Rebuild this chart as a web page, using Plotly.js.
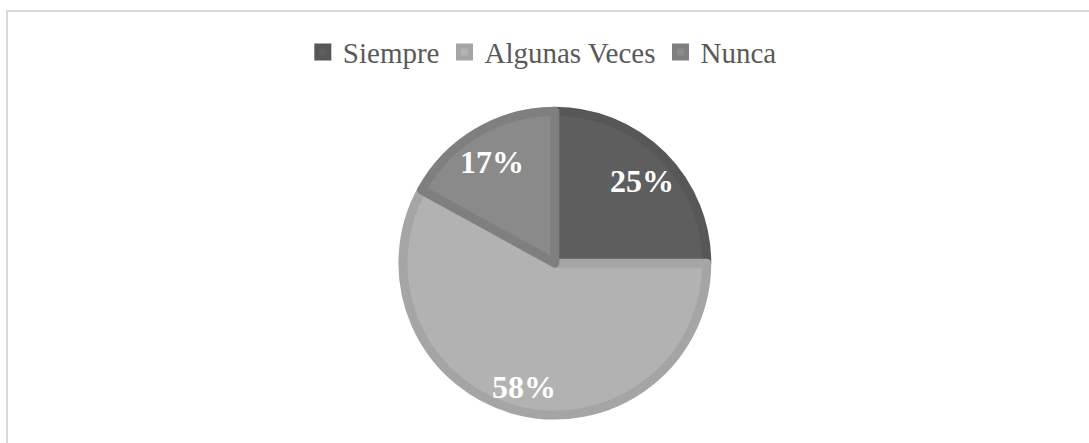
<!DOCTYPE html>
<html>
<head>
<meta charset="utf-8">
<script src="https://cdn.plot.ly/plotly-3.0.1.min.js"></script>
<style>
  html, body { margin: 0; padding: 0; background: #ffffff; }
  #frame { position: absolute; left: 6px; top: 10px; width: 1200px; height: 600px;
           border-left: 2px solid #d9d9d9; border-top: 2px solid #d9d9d9; }
  #chart { position: absolute; left: 0; top: 0; width: 1089px; height: 443px; }
</style>
</head>
<body>
<div id="frame"></div>
<div id="chart"></div>
<script>
const categories = ["Siempre", "Algunas Veces", "Nunca"];
const values = [25, 58, 17];
const fillColors = ["#5e5e5e", "#b2b2b2", "#8a8a8a"];
const borderColors = ["#575757", "#a5a5a5", "#7f7f7f"];

const W = 1089, H = 443;
const domX = [0.370, 0.649], domY = [0.063, 0.749];
const lineW = 9;

// derive pie geometry from domain
const cxPx = (domX[0] + domX[1]) / 2 * W;
const cyPx = (1 - (domY[0] + domY[1]) / 2) * H;
const rPx = Math.min((domX[1] - domX[0]) * W, (domY[1] - domY[0]) * H) / 2 + lineW / 2;
const labelFrac = 0.785;

const total = values.reduce((a, b) => a + b, 0);
let cum = 0;
const annotations = values.map((v) => {
  const mid = (cum + v / 2) / total * 2 * Math.PI; // clockwise from 12 o'clock
  cum += v;
  const d = rPx * labelFrac;
  const xPx = cxPx + d * Math.sin(mid);
  const yPx = cyPx - d * Math.cos(mid);
  return {
    xref: "paper", yref: "paper",
    x: xPx / W, y: 1 - yPx / H,
    xanchor: "center", yanchor: "middle",
    yshift: -5,
    text: Math.round(v / total * 100) + "%",
    showarrow: false,
    font: { family: "Liberation Serif", size: 32, color: "#ffffff", weight: "bold" }
  };
});

const trace = {
  type: "pie",
  labels: categories,
  values: values,
  sort: false,
  direction: "clockwise",
  rotation: 0,
  marker: { colors: fillColors, line: { color: borderColors, width: lineW } },
  textinfo: "none",
  hoverinfo: "skip",
  domain: { x: domX, y: domY }
};

const layout = {
  width: W,
  height: H,
  margin: { l: 0, r: 0, t: 0, b: 0 },
  paper_bgcolor: "rgba(0,0,0,0)",
  plot_bgcolor: "rgba(0,0,0,0)",
  showlegend: true,
  annotations: annotations,
  legend: {
    orientation: "h",
    x: 0.498, xanchor: "center",
    y: 0.882, yanchor: "middle",
    font: { family: "Liberation Serif", size: 29, color: "#595959" },
    itemwidth: 30,
    bgcolor: "rgba(0,0,0,0)"
  }
};

Plotly.newPlot("chart", [trace], layout, { displayModeBar: false, staticPlot: true });
</script>
</body>
</html>
